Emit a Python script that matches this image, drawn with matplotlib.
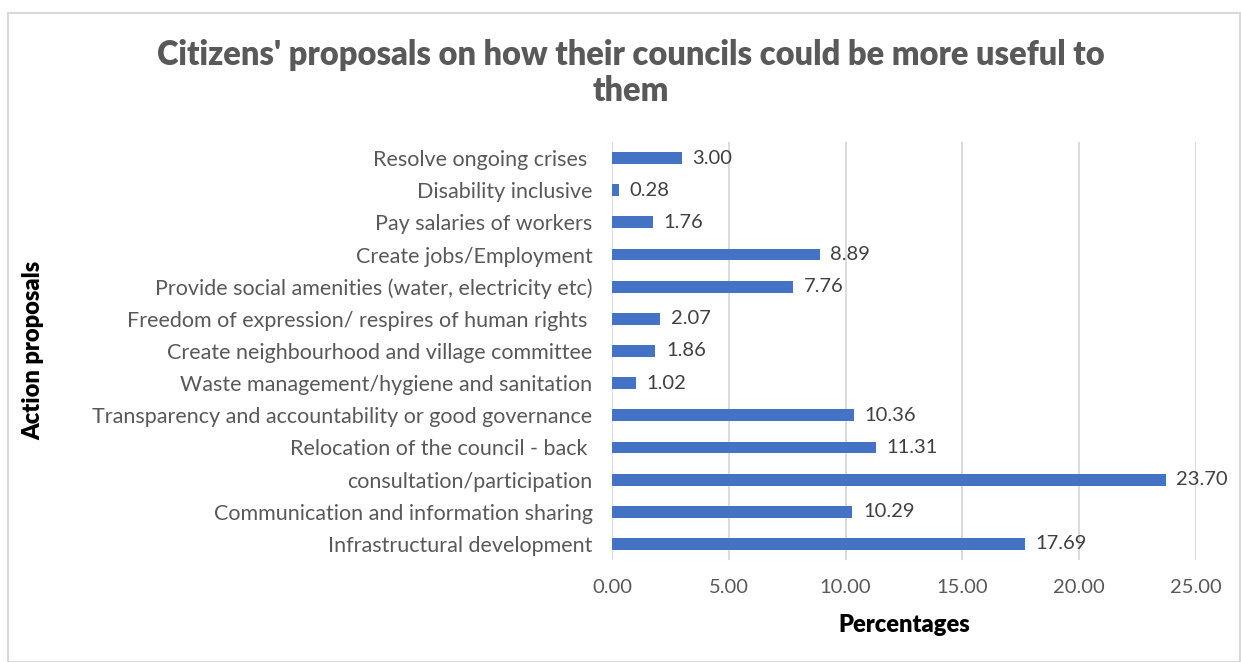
import matplotlib
matplotlib.use("Agg")
import matplotlib.pyplot as plt
from matplotlib.patches import Rectangle

categories = [
    "Infrastructural development",
    "Communication and information sharing",
    "consultation/participation",
    "Relocation of the council - back ",
    "Transparency and accountability or good governance",
    "Waste management/hygiene and sanitation",
    "Create neighbourhood and village committee",
    "Freedom of expression/ respires of human rights ",
    "Provide social amenities (water, electricity etc)",
    "Create jobs/Employment",
    "Pay salaries of workers",
    "Disability inclusive",
    "Resolve ongoing crises ",
]
values = [17.69, 10.29, 23.70, 11.31, 10.36, 1.02, 1.86, 2.07, 7.76, 8.89, 1.76, 0.28, 3.00]
xticks = [0, 5, 10, 15, 20, 25]

plt.rcParams['font.family'] = ['Lato', 'DejaVu Sans']

W, H = 1241, 662
fig = plt.figure(figsize=(W / 100, H / 100), dpi=100)
fig.patch.set_facecolor("white")

# light frame around the chart area
fig.add_artist(Rectangle((8 / W, 0.0), 1 - 8 / W - 0.001, 1 - 13 / H,
                         transform=fig.transFigure, fill=False,
                         edgecolor="#d9d9d9", linewidth=1.5))

ax = fig.add_axes([612 / W, 1 - 560 / H, (1196 - 612) / W, (560 - 142) / H])
ypos = list(range(len(categories)))
ax.barh(ypos, values, height=0.37, color="#4472c4", zorder=3)
for y, v in zip(ypos, values):
    ax.text(v + 0.45, y, f"{v:.2f}", va="center", ha="left",
            fontsize=14.5, color="#404040", zorder=4)

ax.set_xlim(0, 25)
ax.set_ylim(-0.5, len(categories) - 0.5)
ax.set_xticks(xticks)
ax.set_xticklabels([f"{t:.2f}" for t in xticks])
ax.set_yticks(ypos)
ax.set_yticklabels(categories)
ax.tick_params(axis="both", length=0, labelcolor="#595959")
ax.tick_params(axis="x", pad=14, labelsize=14.5)
ax.tick_params(axis="y", pad=14, labelsize=15.5)
ax.grid(axis="x", color="#d9d9d9", linewidth=1.3, zorder=0)
for s in ax.spines.values():
    s.set_visible(False)

ax.set_xlabel("Percentages", fontsize=17, fontweight="heavy", color="black", labelpad=13)
fig.text(33 / W, 1 - 350 / H, "Action proposals", rotation=90, ha="center", va="center",
         fontsize=17, fontweight="heavy", color="black")

fig.text(631 / W, 1 - 73 / H,
         "Citizens' proposals on how their councils could be more useful to\nthem",
         ha="center", va="center", fontsize=23.5, fontweight="heavy",
         color="#595959", linespacing=1.15)

fig.savefig("out.png", dpi=100, facecolor="white")
